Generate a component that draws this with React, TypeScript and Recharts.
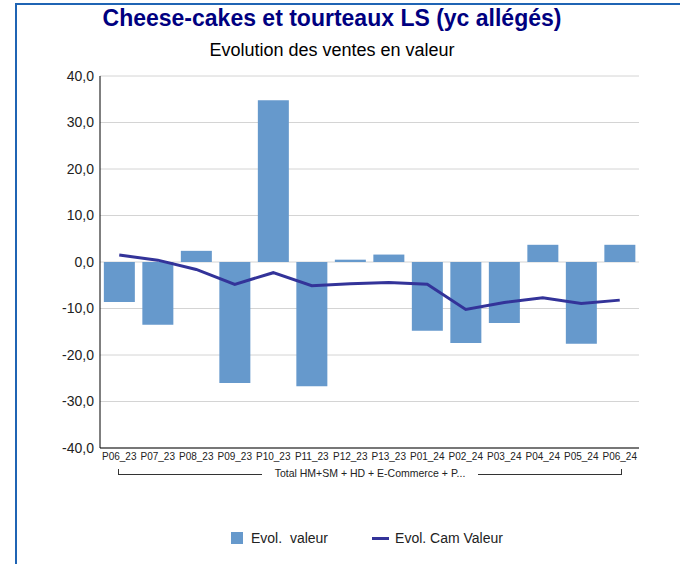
import {
  Bar,
  CartesianGrid,
  ComposedChart,
  Line,
  XAxis,
  YAxis,
} from "recharts";

const periods = [
  "P06_23", "P07_23", "P08_23", "P09_23", "P10_23", "P11_23", "P12_23",
  "P13_23", "P01_24", "P02_24", "P03_24", "P04_24", "P05_24", "P06_24",
];
const evolValeur = [-8.6, -13.5, 2.4, -26.0, 34.8, -26.7, 0.5, 1.6, -14.8, -17.4, -13.1, 3.7, -17.6, 3.7];
const evolCamValeur = [1.5, 0.4, -1.6, -4.8, -2.3, -5.1, -4.7, -4.4, -4.8, -10.2, -8.7, -7.7, -8.9, -8.2];
const yTicks = [-40, -30, -20, -10, 0, 10, 20, 30, 40];
const groupLabel = "Total HM+SM + HD + E-Commerce + P...";
const seriesNames = ["Evol.  valeur", "Evol. Cam Valeur"];

const BAR_COLOR = "#6699cc";
const LINE_COLOR = "#333399";
const FONT = "'Liberation Sans', Arial, sans-serif";

const data = periods.map((p, i) => ({
  name: p,
  valeur: evolValeur[i],
  cam: evolCamValeur[i],
}));

// plain tick so the labels never wrap
const PeriodTick = (props: any) => {
  const { x, y, payload } = props;
  return (
    <text x={x} y={y + 10} textAnchor="middle" fontSize={10} fontFamily={FONT} fill="#222">
      {payload.value}
    </text>
  );
};

export default function App() {
  return (
    <div
      style={{
        position: "absolute",
        left: 0,
        top: 0,
        width: 680,
        height: 564,
        background: "#fff",
        fontFamily: FONT,
        overflow: "hidden",
      }}
    >
      {/* frame */}
      <div
        style={{
          position: "absolute",
          left: 15,
          top: 3,
          width: 700,
          height: 600,
          borderLeft: "2px solid #1f64b4",
          borderTop: "2px solid #1f64b4",
        }}
      />
      <div
        style={{
          position: "absolute",
          top: 5,
          left: 0,
          width: 664,
          textAlign: "center",
          fontWeight: "bold",
          fontSize: 23,
          color: "#000080",
        }}
      >
        Cheese-cakes et tourteaux LS (yc allégés)
      </div>
      <div
        style={{
          position: "absolute",
          top: 40,
          left: 0,
          width: 664,
          textAlign: "center",
          fontSize: 18,
          color: "#000",
        }}
      >
        Evolution des ventes en valeur
      </div>

      <div style={{ position: "absolute", left: 0, top: 0 }}>
        <ComposedChart
          width={680}
          height={470}
          data={data}
          margin={{ top: 76, right: 41, left: 0, bottom: 0 }}
          barCategoryGap="10%"
        >
          <CartesianGrid vertical={false} stroke="#d4d4d4" />
          <XAxis
            dataKey="name"
            height={22}
            tickLine={false}
            tickSize={0}
            axisLine={{ stroke: "#777", strokeWidth: 2 }}
            interval={0}
            tick={<PeriodTick />}
          />
          <YAxis
            width={100}
            domain={[-40, 40]}
            ticks={yTicks}
            interval={0}
            tickLine={false}
            tickSize={0}
            tickMargin={6}
            axisLine={{ stroke: "#000" }}
            tickFormatter={(v: number) => v.toFixed(1).replace(".", ",")}
            tick={{ fill: "#222", fontSize: 14, fontFamily: FONT }}
          />
          <Bar dataKey="valeur" name={seriesNames[0]} fill={BAR_COLOR} isAnimationActive={false} />
          <Line
            dataKey="cam"
            name={seriesNames[1]}
            type="linear"
            stroke={LINE_COLOR}
            strokeWidth={3}
            dot={false}
            activeDot={false}
            isAnimationActive={false}
          />
        </ComposedChart>
      </div>

      {/* category group bracket */}
      <div
        style={{
          position: "absolute",
          left: 118,
          top: 469,
          width: 502,
          height: 5,
          borderLeft: "1px solid #333",
          borderRight: "1px solid #333",
          borderBottom: "1px solid #333",
        }}
      />
      <div
        style={{
          position: "absolute",
          left: 262,
          top: 466,
          width: 216,
          textAlign: "center",
          fontSize: 10.5,
          color: "#222",
          background: "#fff",
          lineHeight: "14px",
        }}
      >
        {groupLabel}
      </div>

      {/* legend */}
      <div
        style={{
          position: "absolute",
          top: 530,
          left: 231,
          display: "flex",
          alignItems: "center",
          fontSize: 14,
          color: "#222",
          whiteSpace: "pre",
        }}
      >
        <span style={{ width: 12, height: 12, background: BAR_COLOR, display: "inline-block", marginRight: 8 }} />
        <span style={{ marginRight: 44 }}>{seriesNames[0]}</span>
        <span style={{ width: 17, height: 3, background: LINE_COLOR, display: "inline-block", marginRight: 6 }} />
        <span>{seriesNames[1]}</span>
      </div>
    </div>
  );
}
